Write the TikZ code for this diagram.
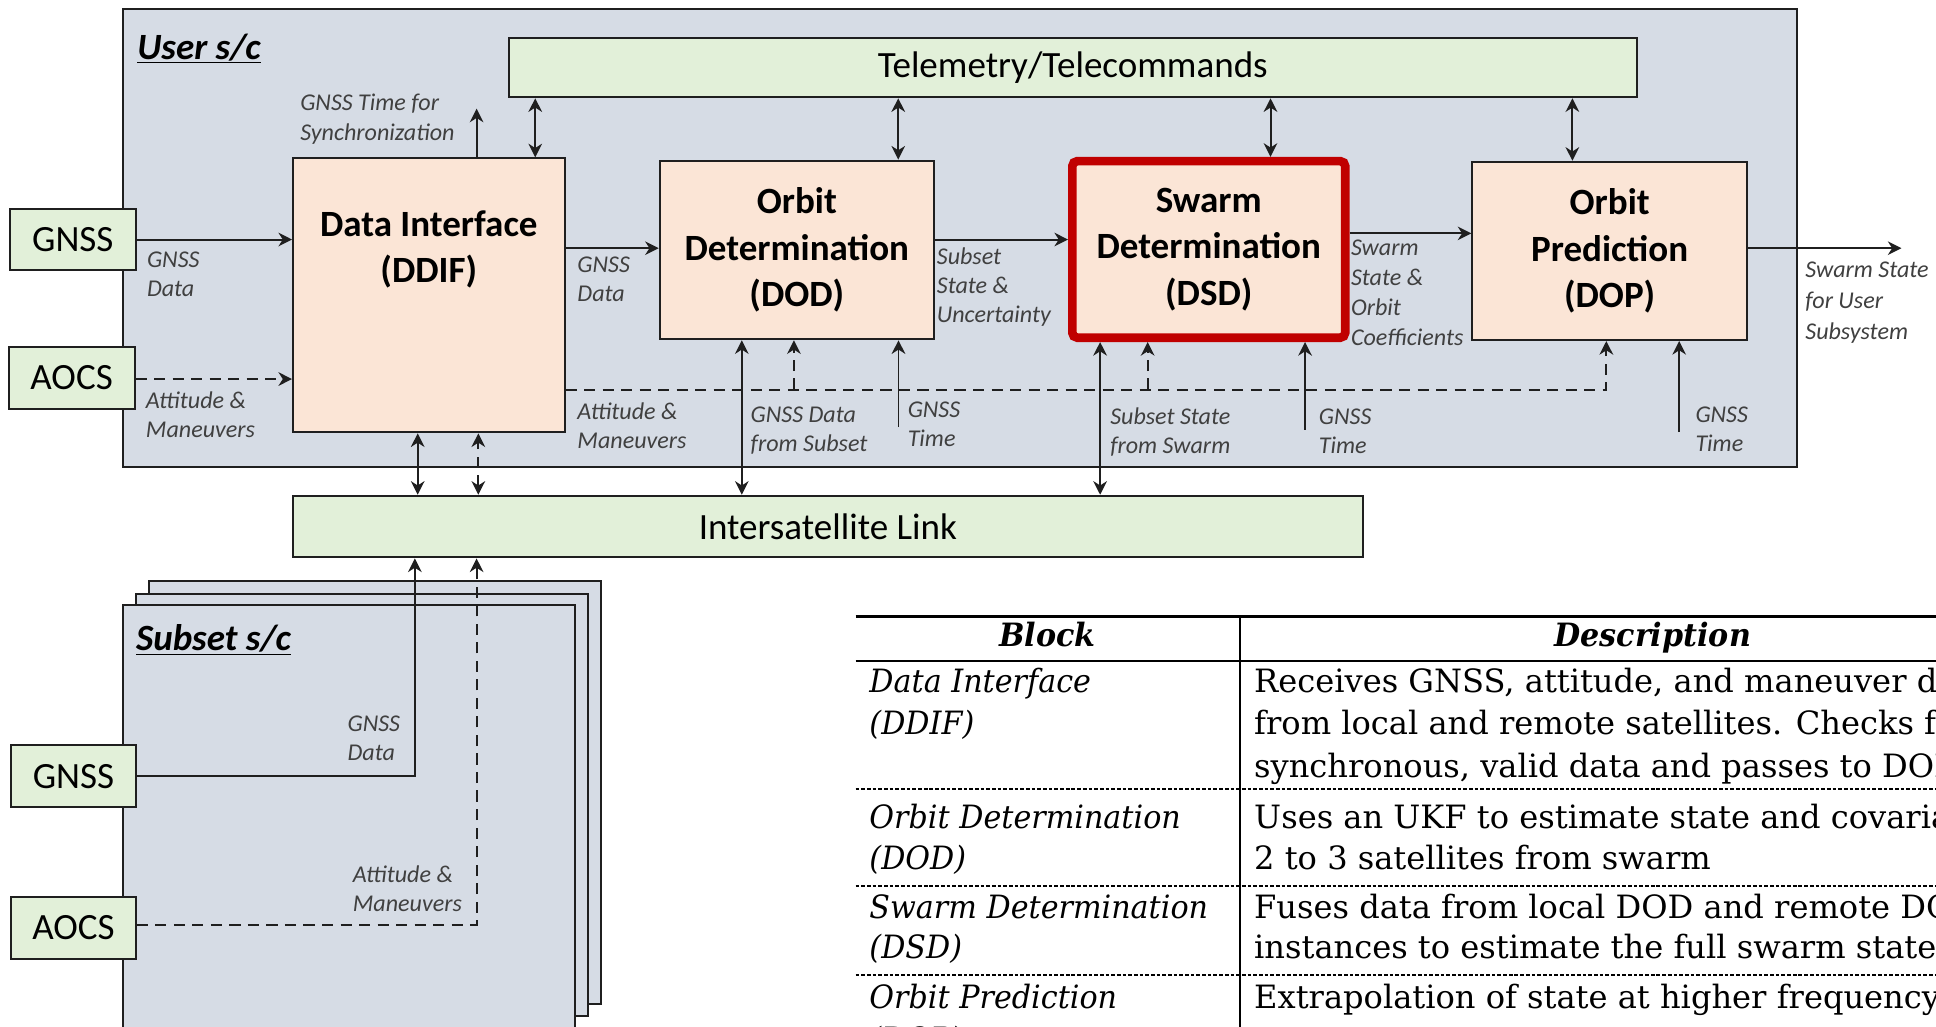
\documentclass[tikz,border=0pt]{standalone}
\usepackage{fontspec}
\setmainfont{Carlito}
\newfontfamily\tabfont{DejaVu Serif}
\newfontfamily\tabitfont[FakeStretch=0.94]{DejaVu Serif}
\usetikzlibrary{arrows.meta}

\definecolor{scfill}{HTML}{D6DCE5}
\definecolor{blockfill}{HTML}{FBE5D6}
\definecolor{busfill}{HTML}{E2F0D9}
\definecolor{hilite}{HTML}{C00000}
\definecolor{lblgray}{HTML}{404040}
\definecolor{edge}{HTML}{1F1F1F}

\begin{document}
\begin{tikzpicture}[x=1pt,y=-1pt,
  sized/.style 2 args={minimum width=#1pt,minimum height=#2pt},
  scframe/.style={draw=edge,line width=1.7pt,fill=scfill,inner sep=0pt},
  block/.style={draw=edge,line width=1.6pt,fill=blockfill,inner sep=0pt},
  bar/.style={draw=edge,line width=1.6pt,fill=busfill,inner sep=0pt,font=\fontsize{30}{36}\selectfont},
  blocktitle/.style={align=center,inner sep=0pt,font=\bfseries\fontsize{30}{37.5}\selectfont},
  sclabel/.style={anchor=base west,inner sep=0pt,font=\bfseries\itshape\fontsize{30}{34}\selectfont},
  lbl/.style={anchor=west,align=left,inner sep=0pt,text=lblgray,font=\itshape\fontsize{19.5}{23.5}\selectfont},
  link/.style={line width=1.6pt,draw=edge},
  tip/.style={},
  arr/.style={link,-{Stealth[length=11pt,width=11pt,inset=3.5pt]}},
  dbl/.style={link,{Stealth[length=11pt,width=11pt,inset=3.5pt]}-{Stealth[length=11pt,width=11pt,inset=3.5pt]}},
  dsh/.style={dash pattern=on 9pt off 6pt},
  thead/.style={anchor=base,inner sep=0pt,font=\tabitfont\bfseries\itshape\fontsize{26}{34.5}\selectfont},
  tkey/.style={anchor=base west,inner sep=0pt,font=\tabitfont\itshape\fontsize{26}{34.5}\selectfont},
  tcell/.style={anchor=base west,inner sep=0pt,font=\tabfont\fontsize{26}{34.5}\selectfont},
]
\useasboundingbox (0,0) rectangle (1568,831);
\clip (0,0) rectangle (1568,831);
\fill[white] (0,0) rectangle (1568,831);

% ---------------- user spacecraft ----------------
\node[scframe,sized={1355.8}{370.4}] (user) at (777.5,192.8) {};
\node[sclabel] (userlbl) at (111,48) {\underline{User s/c}};

\node[bar,sized={913.6}{47.8}] (tele) at (868.8,54.9) {Telemetry/Telecommands};

\node[block,sized={219.9}{222}] (ddif) at (347.3,239.2) {};
\node[blocktitle] (ddiftitle) at (347.3,202) {Data Interface\\(DDIF)};
\node[block,blocktitle,sized={222.2}{144.8}] (dod) at (645.4,202.4) {Orbit\\Determination\\(DOD)};
\node[draw=hilite,line width=7pt,rounded corners=4pt,fill=blockfill,blocktitle,sized={221}{143}] (dsd) at (979,202) {Swarm\\Determination\\(DSD)};
\node[block,blocktitle,sized={222.5}{144.4}] (dop) at (1303.7,203.2) {Orbit\\Prediction\\(DOP)};

\node[bar,sized={102}{50}] (gnssU) at (59,194) {GNSS};
\node[bar,sized={102}{50}] (aocsU) at (58,306) {AOCS};

\node[bar,sized={867}{50}] (isl) at (670.5,426.5) {Intersatellite Link};

% flow labels
\node[lbl] (lsync) at (243,96.5) {GNSS Time for\\Synchronization};
\node[lbl] (lgnss1) at (118.9,221.8) {GNSS\\Data};
\node[lbl] (latt1) at (118,336) {Attitude \&\\Maneuvers};
\node[lbl] (lgnss2) at (467.5,226) {GNSS\\Data};
\node[lbl] (latt2) at (467.5,345) {Attitude \&\\Maneuvers};
\node[lbl] (lunc) at (758.6,232.6) {Subset\\State \&\\Uncertainty};
\node[lbl] (lsub) at (607.8,348.7) {GNSS Data\\from Subset};
\node[lbl] (ltime1) at (735,344) {GNSS\\Time};
\node[lbl] (lswarm) at (899,350.3) {Subset State\\from Swarm};
\node[lbl] (ltime2) at (1068,349) {GNSS\\Time};
\node[lbl,font=\itshape\fontsize{19.5}{24.3}\selectfont] (lcoef) at (1094,237.5) {Swarm\\State \&\\Orbit\\Coefficients};
\node[lbl,font=\itshape\fontsize{19.5}{25}\selectfont] (luser) at (1462,245) {Swarm State\\for User\\Subsystem};
\node[lbl] (ltime3) at (1373,348) {GNSS\\Time};

% data flow
\draw[arr] (gnssU) -- (gnssU -| ddif.west);
\draw[arr,dsh] (aocsU.east |- 0,307) -- (ddif.west |- 0,307);
\draw[arr] (ddif.east |- 0,201) -- (dod.west |- 0,201);
\draw[arr] (dod.east |- 0,194) -- (dsd.west |- 0,194);
\draw[arr] (dsd.east |- 0,189) -- (dop.west |- 0,189);
\coordinate (out) at (1540,201);
\draw[arr] (dop.east |- out) -- (out);

\coordinate (sync) at (386,88);
\draw[arr] (ddif.north -| sync) -- (sync);

% telemetry links
\draw[dbl] (tele.south -| 433.5,0) -- (ddif.north -| 433.5,0);
\draw[dbl] (tele.south -| 727.5,0) -- (dod.north -| 727.5,0);
\draw[dbl] (tele.south -| 1029,0) -- (dsd.north -| 1029,0);
\draw[dbl] (tele.south -| 1273.5,0) -- (dop.north -| 1273.5,0);

% intersatellite links
\draw[dbl] (isl.north -| 338.3,0) -- (ddif.south -| 338.3,0);
\draw[dbl,dsh] (isl.north -| 387.4,0) -- (ddif.south -| 387.4,0);
\draw[dbl] (isl.north -| 600.8,0) -- (dod.south -| 600.8,0);
\draw[dbl] (isl.north -| 891,0) -- (dsd.south -| 891,0);

% attitude and maneuver bus
\draw[arr,dsh] (ddif.east |- 0,315.5) -| (dop.south -| 1301,0);
\coordinate (busdod) at (643,315.5);
\coordinate (busdsd) at (929.5,315.5);
\draw[arr,dsh] (busdod) -- (busdod |- dod.south);
\draw[arr,dsh] (busdsd) -- (busdsd |- dsd.south);

% GNSS time inputs
\coordinate (tdod) at (727.7,346);
\coordinate (tdsd) at (1057,348);
\coordinate (tdop) at (1360,350);
\draw[arr] (tdod) -- (tdod |- dod.south);
\draw[arr] (tdsd) -- (tdsd |- dsd.south);
\draw[arr] (tdop) -- (tdop |- dop.south);

% ---------------- subset spacecraft ----------------
\node[scframe,sized={366}{342.4}] (stackc) at (303.95,641.8) {};
\node[scframe,sized={366}{342}] (stackb) at (293,652) {};
\node[scframe,sized={366}{345}] (subset) at (282.4,662.2) {};
\node[sclabel] (subsetlbl) at (110,527) {\underline{Subset s/c}};

\node[bar,sized={101}{50}] (gnssS) at (59.5,628.7) {GNSS};
\node[bar,sized={101}{50}] (aocsS) at (59.5,751.5) {AOCS};

\node[lbl] (lgnss3) at (281.3,598) {GNSS\\Data};
\node[lbl] (latt3) at (285.6,719.5) {Attitude \&\\Maneuvers};

\draw[arr] (gnssS) -| (isl.south -| 336,0);
\draw[arr,dsh] (aocsS.east |- 0,749) -| (isl.south -| 386,0);

% ---------------- block table ----------------
\draw[line width=2.4pt] (693,499.5) -- (1580,499.5);
\draw[line width=1.8pt] (693,535.4) -- (1580,535.4);
\draw[line width=1.8pt] (1004,499.5) -- (1004,840);
\foreach \y in {639,717.6,789.7}
  \draw[line width=1.1pt,dash pattern=on 3pt off 1.6pt] (693,\y) -- (1580,\y);

\node[thead] (hblock) at (848.5,524) {Block};
\node[thead] (hdesc) at (1338.5,524) {Description};

\node[tkey] (k1a) at (704,561) {Data Interface};
\node[tkey] (k1b) at (704,595) {(DDIF)};
\node[tkey] (k2a) at (704,671) {Orbit Determination};
\node[tkey] (k2b) at (704,704.5) {(DOD)};
\node[tkey] (k3a) at (704,744) {Swarm Determination};
\node[tkey] (k3b) at (704,776) {(DSD)};
\node[tkey] (k4a) at (704,816.6) {Orbit Prediction};
\node[tkey] (k4b) at (704,851) {(DOP)};

\node[tcell] (d1a) at (1015.6,561) {Receives GNSS, attitude, and maneuver data};
\node[tcell] (d1b) at (1015.6,595) {from local and remote satellites. Checks for};
\node[tcell] (d1c) at (1015.6,630) {synchronous, valid data and passes to DOD};
\node[tcell] (d2a) at (1015.6,671) {Uses an UKF to estimate state and covariance};
\node[tcell] (d2b) at (1015.6,704.5) {2 to 3 satellites from swarm};
\node[tcell] (d3a) at (1015.6,744) {Fuses data from local DOD and remote DOD};
\node[tcell] (d3b) at (1015.6,776) {instances to estimate the full swarm state};
\node[tcell] (d4a) at (1015.6,816.6) {Extrapolation of state at higher frequency};
\end{tikzpicture}
\end{document}
